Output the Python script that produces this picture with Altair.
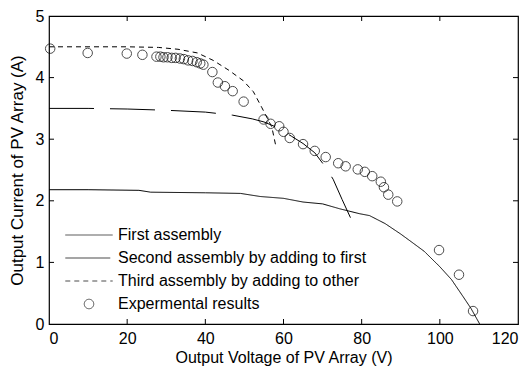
import altair as alt
import pandas as pd

SERIES = ["First assembly", "Second assembly by adding to first",
          "Third assembly by adding to other", "Expermental results"]

first_v = [0, 10, 23, 26, 40, 49, 54, 60, 65, 70, 74.4, 79.5, 82, 86, 90, 92.8, 96, 100, 103, 106, 108, 110.2]
first_i = [2.18, 2.18, 2.17, 2.14, 2.13, 2.12, 2.07, 2.04, 1.98, 1.95, 1.87, 1.79, 1.76, 1.63, 1.46, 1.33, 1.18, 0.93, 0.72, 0.44, 0.25, 0.0]

second_v = [0, 10, 20, 30, 40, 47, 52, 55, 58, 62, 65, 68, 70.6, 72.7, 75, 77.4]
second_i = [3.5, 3.5, 3.49, 3.47, 3.44, 3.39, 3.33, 3.28, 3.2, 3.05, 2.93, 2.78, 2.56, 2.35, 2.02, 1.69]

third_v = [0, 20, 28, 33, 38, 42, 46, 49.7, 52.3, 54.4, 57, 58.1]
third_i = [4.5, 4.5, 4.49, 4.46, 4.4, 4.28, 4.12, 3.95, 3.77, 3.52, 3.2, 2.87]

exp_v = [0.3, 9.9, 19.9, 23.9, 27.5, 28.5, 29.3, 30.3, 31.4, 32.4, 33.5, 34.5, 35.6, 36.7, 37.8, 38.7, 39.5,
         41.8, 43.2, 45.0, 47.0, 49.8, 54.9, 56.7, 58.9, 60.0, 61.6, 65.0, 68.0, 70.8, 74.0, 75.9, 79.0,
         80.8, 82.7, 84.9, 85.7, 86.8, 89.1, 99.8, 104.9, 108.5]
exp_i = [4.47, 4.40, 4.39, 4.37, 4.34, 4.34, 4.33, 4.33, 4.32, 4.32, 4.31, 4.30, 4.28, 4.27, 4.25, 4.23, 4.21,
         4.09, 3.92, 3.86, 3.78, 3.61, 3.32, 3.25, 3.21, 3.12, 3.02, 2.92, 2.81, 2.71, 2.61, 2.56, 2.51,
         2.47, 2.40, 2.31, 2.22, 2.10, 1.99, 1.20, 0.80, 0.21]

x_ticks = [20, 40, 60, 80, 100]
y_ticks = [1, 2, 3, 4]

rows = []
for name, vs, cs in [(SERIES[0], first_v, first_i), (SERIES[1], second_v, second_i), (SERIES[2], third_v, third_i)]:
    for k, (v, c) in enumerate(zip(vs, cs)):
        rows.append({"series": name, "v": v, "i": c, "k": k})
lines_df = pd.DataFrame(rows)
exp_df = pd.DataFrame({"series": SERIES[3], "v": exp_v, "i": exp_i})
xt_df = pd.DataFrame({"t": x_ticks})
yt_df = pd.DataFrame({"t": y_ticks})

W, H = 469, 308
FONT = "Arial"

xscale = alt.Scale(domain=[0, 120], nice=False, zero=False)
yscale = alt.Scale(domain=[0, 5], nice=False, zero=False)

xaxis = alt.Axis(values=[0, 20, 40, 60, 80, 100, 120], format="d", tickSize=0, domain=False, grid=False,
                 labelPadding=6, labelFontSize=16, labelFont=FONT, labelColor="black",
                 title="Output Voltage of PV Array (V)", titleFontSize=16, titleFont=FONT,
                 titleFontWeight="normal", titleColor="black", titlePadding=3)
yaxis = alt.Axis(values=[0, 1, 2, 3, 4, 5], format="d", tickSize=0, domain=False, grid=False,
                 labelPadding=5, labelFontSize=16, labelFont=FONT, labelColor="black",
                 title="Output Current of PV Array (A)", titleFontSize=17, titleFont=FONT,
                 titleFontWeight="normal", titleColor="black", titlePadding=9)

LINE_PATH = "M-5,0H5"
legend = alt.Legend(title=None, orient="none", legendX=32, legendY=211, padding=0,
                    labelFontSize=16, labelFont=FONT, labelColor="black", labelOffset=21,
                    labelLimit=0, rowPadding=7, symbolStrokeColor="black",
                    symbolFillColor="transparent", symbolStrokeWidth=1, symbolSize=90)

dash_scale = alt.Scale(domain=SERIES, range=[[1, 0], [45, 16], [5, 4], [1, 0]])
shape_scale = alt.Scale(domain=SERIES, range=[LINE_PATH, LINE_PATH, LINE_PATH, "circle"])

lines = alt.Chart(lines_df).mark_line(color="black", strokeWidth=1, clip=True).encode(
    x=alt.X("v:Q", scale=xscale, axis=xaxis),
    y=alt.Y("i:Q", scale=yscale, axis=yaxis),
    strokeDash=alt.StrokeDash("series:N", scale=dash_scale, legend=legend),
    order=alt.Order("k:Q"),
)

points = alt.Chart(exp_df).mark_point(filled=False, color="black", strokeWidth=1, size=90).encode(
    x=alt.X("v:Q", scale=xscale),
    y=alt.Y("i:Q", scale=yscale),
    shape=alt.Shape("series:N", scale=shape_scale, legend=legend),
)

tick_style = dict(color="black", strokeWidth=1)
xb = alt.Chart(xt_df).mark_rule(**tick_style).encode(x=alt.X("t:Q", scale=xscale), y=alt.value(H), y2=alt.value(H - 5))
xtp = alt.Chart(xt_df).mark_rule(**tick_style).encode(x=alt.X("t:Q", scale=xscale), y=alt.value(0), y2=alt.value(5))
yl = alt.Chart(yt_df).mark_rule(**tick_style).encode(y=alt.Y("t:Q", scale=yscale), x=alt.value(0), x2=alt.value(5))
yr = alt.Chart(yt_df).mark_rule(**tick_style).encode(y=alt.Y("t:Q", scale=yscale), x=alt.value(W), x2=alt.value(W - 5))

chart = alt.layer(lines, points, xb, xtp, yl, yr).properties(
    width=W, height=H,
    autosize=alt.AutoSizeParams(type="none"),
    padding={"left": 41, "top": 8, "right": 5, "bottom": 43},
    background="white",
).configure_view(stroke="black", strokeWidth=1.2)

chart.save("out.html", embed_options={"renderer": "svg", "actions": False})
